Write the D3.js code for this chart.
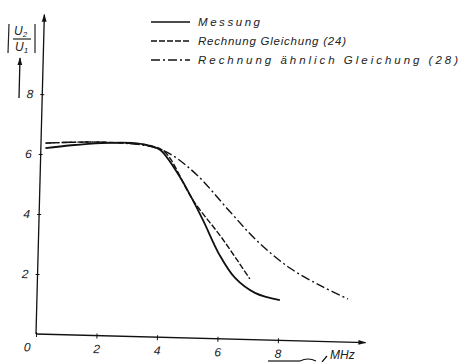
<!DOCTYPE html>
<html>
<head>
<meta charset="utf-8">
<script src="https://cdn.jsdelivr.net/npm/d3@7"></script>
<style>
  body { margin: 0; background: #fff; }
  text { font-family: "Liberation Sans", Arial, sans-serif; font-style: italic; fill: #222; }
</style>
</head>
<body>
<div id="chart"></div>
<script>
var width = 462, height = 362;

// tick labels
var xTicks = [0, 2, 4, 6, 8];
var yTicks = [2, 4, 6, 8];

// curves: frequency (MHz) and |U2/U1|
var messungF = [0.15, 1, 2, 3, 3.6, 3.95, 4.62, 4.97, 5.42, 6.0, 6.53, 7.2, 8.03];
var messungV = [6.2, 6.32, 6.42, 6.45, 6.37, 6.24, 5.36, 4.77, 3.94, 2.79, 2.04, 1.56, 1.34];

var gl24F = [0.15, 1, 2, 3, 3.6, 4.1, 5.07, 6.06, 7.02];
var gl24V = [6.37, 6.42, 6.45, 6.43, 6.38, 6.18, 4.6, 3.36, 2.02];

var gl28F = [0.15, 1, 2, 3, 3.6, 4.27, 5.18, 6.3, 7.22, 8.33, 9.44, 10.28];
var gl28V = [6.37, 6.42, 6.45, 6.42, 6.35, 6.12, 5.44, 4.25, 3.3, 2.42, 1.82, 1.44];

var legendLabels = ["Messung", "Rechnung  Gleichung (24)", "Rechnung  ähnlich  Gleichung (28)"];
var dashes = [null, "6,2", "9,3,2,3"];

var svg = d3.select("#chart")
  .append("svg")
    .attr("width", width)
    .attr("height", height);

var defs = svg.append("defs");
defs.append("marker")
    .attr("id", "arr")
    .attr("viewBox", "0 0 10 10")
    .attr("refX", 9).attr("refY", 5)
    .attr("markerWidth", 8).attr("markerHeight", 8)
    .attr("markerUnits", "userSpaceOnUse")
    .attr("orient", "auto")
  .append("path")
    .attr("d", "M0,2L10,5L0,8Z")
    .attr("fill", "#111");

// scanned plot is slightly tilted
var g = svg.append("g")
    .attr("transform", "translate(36,334) rotate(1.5)");

var x = d3.scaleLinear().domain([0, 10]).range([0, 302.5]);
var y = d3.scaleLinear().domain([0, 10]).range([0, -300]);

// axis lines with arrows
g.append("line")
    .attr("x1", x(0)).attr("y1", y(0))
    .attr("x2", x(10.9)).attr("y2", y(0))
    .attr("stroke", "#111").attr("stroke-width", 1.3)
    .attr("marker-end", "url(#arr)");
g.append("line")
    .attr("x1", x(0)).attr("y1", y(0))
    .attr("x2", x(0)).attr("y2", y(10.65))
    .attr("stroke", "#111").attr("stroke-width", 1.3)
    .attr("marker-end", "url(#arr)");

// X axis ticks
var xAxis = g.append("g")
    .call(d3.axisBottom(x).tickValues(xTicks).tickSizeInner(3).tickSizeOuter(0).tickPadding(6)
      .tickFormat(function(d) { return d; }));
xAxis.select(".domain").remove();
xAxis.selectAll(".tick line").attr("y1", -2).attr("stroke", "#111");
xAxis.selectAll("text")
    .attr("font-family", "Liberation Sans")
    .attr("font-size", 12)
    .attr("fill", "#222")
    .attr("dx", function(d) { return d === 0 ? -9 : 0; });

// Y axis ticks
var yAxis = g.append("g")
    .call(d3.axisLeft(y).tickValues(yTicks).tickSizeInner(3).tickSizeOuter(0).tickPadding(6));
yAxis.select(".domain").remove();
yAxis.selectAll(".tick line").attr("x1", 2).attr("x2", -2).attr("stroke", "#111");
yAxis.selectAll("text")
    .attr("font-family", "Liberation Sans")
    .attr("font-size", 12)
    .attr("fill", "#222");

// curves
var line = d3.line()
    .x(function(d) { return x(d[0]); })
    .y(function(d) { return y(d[1]); })
    .curve(d3.curveCatmullRom);

var series = [
  d3.zip(messungF, messungV),
  d3.zip(gl24F, gl24V),
  d3.zip(gl28F, gl28V)
];

g.selectAll(".curve")
  .data(series)
  .enter()
  .append("path")
    .attr("class", "curve")
    .attr("d", line)
    .attr("fill", "none")
    .attr("stroke", "#111")
    .attr("stroke-width", function(d, i) { return i === 0 ? 1.8 : 1.4; })
    .attr("stroke-dasharray", function(d, i) { return dashes[i]; });

// legend
var legendW = [62, 148, 260];
var leg = svg.append("g").attr("transform", "translate(151,22)");
legendLabels.forEach(function(t, i) {
  leg.append("line")
      .attr("x1", 0).attr("x2", 39)
      .attr("y1", i * 19).attr("y2", i * 19)
      .attr("stroke", "#111").attr("stroke-width", 1.4)
      .attr("stroke-dasharray", dashes[i]);
  leg.append("text")
      .attr("x", 47).attr("y", i * 19 + 4)
      .attr("font-size", 11.5)
      .attr("fill", "#333")
      .attr("textLength", legendW[i])
      .attr("lengthAdjust", "spacing")
      .text(t);
});

// y axis label |U2/U1|
var yl = svg.append("g").attr("transform", "translate(8,22)");
yl.append("line").attr("x1", 1).attr("x2", 0).attr("y1", 2).attr("y2", 31).attr("stroke", "#222").attr("stroke-width", 1.2);
yl.append("line").attr("x1", 27).attr("x2", 27).attr("y1", 2).attr("y2", 31).attr("stroke", "#222").attr("stroke-width", 1.2);
var t1 = yl.append("text").attr("x", 6).attr("y", 13).attr("font-size", 12);
t1.append("tspan").text("U");
t1.append("tspan").attr("font-size", 8).attr("dy", 2).text("2");
yl.append("line").attr("x1", 5).attr("x2", 23).attr("y1", 17).attr("y2", 17).attr("stroke", "#222").attr("stroke-width", 1.2);
var t2 = yl.append("text").attr("x", 7).attr("y", 29).attr("font-size", 12);
t2.append("tspan").text("U");
t2.append("tspan").attr("font-size", 8).attr("dy", 2).text("1");
svg.append("line")
    .attr("x1", 19).attr("y1", 98).attr("x2", 20).attr("y2", 58)
    .attr("stroke", "#111").attr("stroke-width", 1.3)
    .attr("marker-end", "url(#arr)");

// unit MHz with arrow under the 8
svg.append("line")
    .attr("x1", 268).attr("y1", 361).attr("x2", 300).attr("y2", 361)
    .attr("stroke", "#111").attr("stroke-width", 1.2);
svg.append("path")
    .attr("d", "M300,361 Q308,357 316,361 M322,362 L327,356")
    .attr("fill", "none").attr("stroke", "#111").attr("stroke-width", 1.2);
svg.append("text")
    .attr("x", 330).attr("y", 359)
    .attr("font-size", 12)
    .text("MHz");
</script>
</body>
</html>
